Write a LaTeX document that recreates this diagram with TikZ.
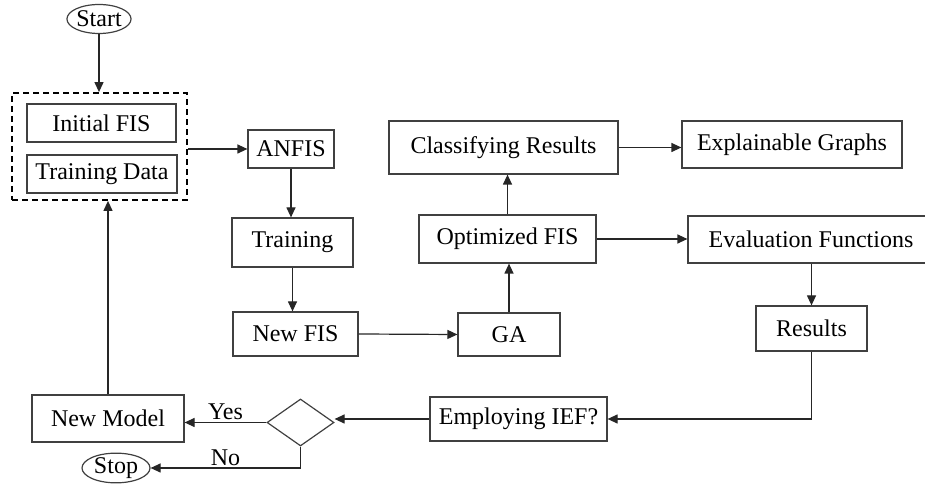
\documentclass[tikz,border=0pt]{standalone}
\usepackage{fontspec}
\setmainfont{Liberation Serif}
\usetikzlibrary{shapes.geometric,arrows.meta}

\begin{document}
\begin{tikzpicture}[x=0.5pt,y=-0.5pt,
  box/.style={draw=black!75, line width=0.6pt, inner sep=0pt, font=\fontsize{12}{14}\selectfont},
  term/.style={ellipse, draw=black!75, line width=0.6pt, inner sep=0pt, font=\fontsize{12}{14}\selectfont},
  arr/.style={-{Triangle[length=5pt,width=4.5pt]}, line width=0.6pt, draw=black!85},
  lbl/.style={font=\fontsize{12}{14}\selectfont, inner sep=1pt}]
\clip (0,0) rectangle (925,490);

%left column
\node[term, minimum width=32pt, minimum height=14.5pt] (start) at (99,19) {Start};
\node[draw, dash pattern=on 3pt off 2pt, line width=0.9pt, minimum width=87.5pt, minimum height=53.5pt] (grp) at (99.5,146.5) {};
\node[box, minimum width=74.5pt, minimum height=19pt] (init) at (101.5,123) {Initial FIS};
\node[box, minimum width=75pt, minimum height=19pt] (tdata) at (102,174) {Training Data};

%training chain
\node[box, minimum width=43pt, minimum height=19pt] (anfis) at (291,149) {ANFIS};
\node[box, minimum width=60.5pt, minimum height=24.5pt] (train) at (292.5,242.5) {Training};
\node[box, minimum width=62.5pt, minimum height=22pt] (newfis) at (295.5,334) {New FIS};
\node[box, minimum width=51pt, minimum height=21.5pt] (ga) at (509,334.5) {GA};
\node[box, minimum width=88.5pt, minimum height=24pt] (optfis) at (507.5,239) {Optimized FIS};
\node[box, minimum width=114.5pt, minimum height=26.5pt] (classres) at (503.5,147.5) {Classifying Results};
\node[box, minimum width=110pt, minimum height=23.5pt] (explgr) at (792,144.5) {Explainable Graphs};
\node[box, minimum width=123pt, minimum height=23.5pt] (evalfn) at (811,239.5) {Evaluation Functions};
\node[box, minimum width=55.5pt, minimum height=22.5pt] (results) at (811.5,328.5) {Results};

%decision row
\node[box, minimum width=88.5pt, minimum height=22pt] (employ) at (518.5,419) {Employing IEF?};
\node[box, diamond, minimum width=33.5pt, minimum height=23.5pt] (decide) at (300.5,422.5) {};
\node[box, minimum width=76pt, minimum height=23.5pt] (newmodel) at (108,418.5) {New Model};
\node[term, minimum width=34pt, minimum height=14pt] (stop) at (116,468) {Stop};

\draw[arr] (start.south) -- (start.south |- grp.north);
\draw[arr] (grp.east |- anfis.west) -- (anfis.west);
\draw[arr] (anfis.south) -- (anfis.south |- train.north);
\draw[arr] (train.south) -- (train.south |- newfis.north);
\draw[arr] (newfis.east) -- (ga.west);
\draw[arr] (ga.north) -- (ga.north |- optfis.south);
\draw[arr] (optfis.north) -- (optfis.north |- classres.south);
\draw[arr] (classres.east) -- (classres.east -| explgr.west);
\draw[arr] (optfis.east) -- (optfis.east -| evalfn.west);
\draw[arr] (results.north |- evalfn.south) -- (results.north);
\draw[arr] (results.south) |- (employ.east);
\draw[arr] (employ.west) -- (employ.west -| decide.east);
\draw[arr] (decide.west) -- (decide.west -| newmodel.east) node[lbl, midway, above] {Yes};
\draw[arr] (decide.south) |- (stop.east) node[lbl, pos=0.75, above] {No};
\draw[arr] (newmodel.north) -- (newmodel.north |- grp.south);
\end{tikzpicture}
\end{document}
